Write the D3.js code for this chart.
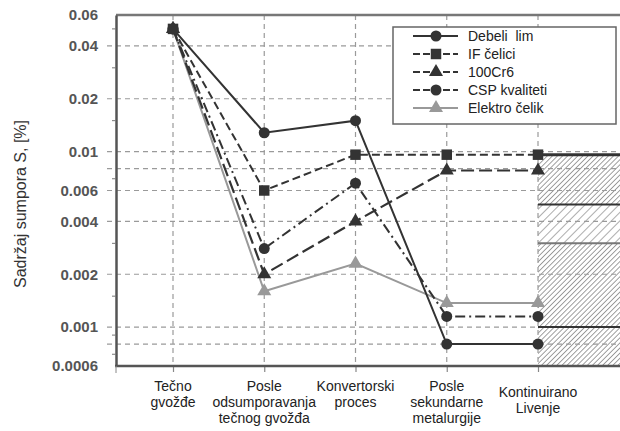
<!DOCTYPE html>
<html>
  <head>
  <title>Sadrzaj sumpora</title>
  </head>
  <body>
    <style>
        body, html {
          margin: 0;
          padding: 0;
          background: #fff;
        }
        svg text {
          font-family: "Liberation Sans", Arial, sans-serif;
        }
      </style>

  <svg id="svg" width="620" height="431"></svg>

  <script src="https://d3js.org/d3.v7.min.js"></script>
  <script>
    // categories on the x axis (multi-line labels)
    const categories = [
        ['Tečno', 'gvožđe'],
        ['Posle', 'odsumporavanja', 'tečnog gvožđa'],
        ['Konvertorski', 'proces'],
        ['Posle', 'sekundarne', 'metalurgije'],
        ['Kontinuirano', 'Livenje']
    ]
    // series values (S content, %)
    const debeliLim = [0.05, 0.0128, 0.015, 0.0008, 0.0008]
    const ifCelici = [0.05, 0.006, 0.0096, 0.0096, 0.0096]
    const cr6 = [0.05, 0.002, 0.004, 0.0078, 0.0078]
    const cspKvaliteti = [0.05, 0.0028, 0.0066, 0.00115, 0.00115]
    const elektroCelik = [0.05, 0.0016, 0.0023, 0.00137, 0.00137]

    const yTicks = [0.06, 0.04, 0.02, 0.01, 0.006, 0.004, 0.002, 0.001, 0.0006]
    const yMinorTicks = [0.05, 0.03, 0.015, 0.007, 0.003, 0.0015, 0.0009, 0.0007]
    const yGrid = [0.04, 0.02, 0.01, 0.008, 0.006, 0.004, 0.002, 0.001, 0.0008]
    // limits drawn inside the hatched area at the casting stage
    const hatchLines = [0.0096, 0.005, 0.003, 0.001]

    const width = 620
    const height = 431
    const plotLeft = 116
    const plotTop = 15
    const plotBottom = 366

    const svg = d3.select('#svg')

    const catIndex = categories.map((d, i) => i)
    const xscale = d3.scalePoint()
        .domain(catIndex)
        .range([173, 538])
    const yscale = d3.scaleLog()
        .domain([0.0006, 0.06])
        .range([plotBottom, plotTop])

    // hatch patterns
    const defs = svg.append('defs')
    function addHatch(id, gap, color) {
        defs.append('pattern')
            .attr('id', id)
            .attr('patternUnits', 'userSpaceOnUse')
            .attr('width', gap)
            .attr('height', gap)
            .attr('patternTransform', 'rotate(45)')
            .append('line')
            .attr('x1', 0).attr('y1', 0)
            .attr('x2', 0).attr('y2', gap)
            .attr('stroke', color)
            .attr('stroke-width', 1.4)
    }
    addHatch('hatchDense', 3.6, '#777')
    addHatch('hatchSparse', 6, '#8a8a8a')

    const xLast = xscale(4)
    // hatched casting zone
    svg.append('rect')
        .attr('x', xLast)
        .attr('y', yscale(hatchLines[0]))
        .attr('width', width - xLast)
        .attr('height', plotBottom - yscale(hatchLines[0]))
        .attr('fill', 'url(#hatchDense)')
    svg.append('rect')
        .attr('x', xLast)
        .attr('y', yscale(hatchLines[1]))
        .attr('width', width - xLast)
        .attr('height', yscale(hatchLines[2]) - yscale(hatchLines[1]))
        .attr('fill', '#fff')
    svg.append('rect')
        .attr('x', xLast)
        .attr('y', yscale(hatchLines[1]))
        .attr('width', width - xLast)
        .attr('height', yscale(hatchLines[2]) - yscale(hatchLines[1]))
        .attr('fill', 'url(#hatchSparse)')

    // grid
    const grid = svg.append('g')
        .attr('stroke', '#9a9a9a')
        .attr('stroke-width', 1.2)
        .attr('stroke-dasharray', '5,4')
    grid.selectAll('.hg')
        .data(yGrid)
        .join('line')
        .attr('x1', 107)
        .attr('x2', width)
        .attr('y1', d => yscale(d))
        .attr('y2', d => yscale(d))
    grid.selectAll('.vg')
        .data(catIndex)
        .join('line')
        .attr('x1', d => xscale(d))
        .attr('x2', d => xscale(d))
        .attr('y1', plotTop)
        .attr('y2', plotBottom)

    // lines inside hatch
    svg.selectAll('.hl')
        .data(hatchLines)
        .join('line')
        .attr('x1', xLast)
        .attr('x2', width)
        .attr('y1', d => yscale(d))
        .attr('y2', d => yscale(d))
        .attr('stroke', (d, i) => i === 2 ? '#777' : '#333')
        .attr('stroke-width', (d, i) => i === 0 ? 3 : 2)

    // frame: top line, left and bottom axes
    svg.append('line')
        .attr('x1', plotLeft).attr('x2', width)
        .attr('y1', plotTop).attr('y2', plotTop)
        .attr('stroke', '#777').attr('stroke-width', 2.5)

    const leftAxis = d3.axisLeft(yscale)
        .tickValues(yTicks)
        .tickFormat(d => String(d))
        .tickSize(0)
        .tickPadding(18)
    const gLeft = svg.append('g')
        .attr('transform', `translate(${plotLeft}, 0)`)
        .call(leftAxis)
    gLeft.select('.domain')
        .attr('stroke', '#555')
        .attr('stroke-width', 2.5)
    gLeft.selectAll('text')
        .attr('font-size', 15)
        .attr('font-weight', 'bold')
        .attr('fill', '#555')
    gLeft.selectAll('.minor')
        .data(yMinorTicks)
        .join('line')
        .attr('class', 'minor')
        .attr('x1', -4).attr('x2', 0)
        .attr('y1', d => yscale(d))
        .attr('y2', d => yscale(d))
        .attr('stroke', '#777')

    const bottomAxis = d3.axisBottom(xscale)
        .tickSize(6)
        .tickFormat('')
    const gBottom = svg.append('g')
        .attr('transform', `translate(0, ${plotBottom})`)
        .call(bottomAxis)
    gBottom.select('.domain').remove()
    gBottom.selectAll('line').attr('stroke', '#888').attr('stroke-width', 1.2)
    svg.append('line')
        .attr('x1', plotLeft - 1).attr('x2', width)
        .attr('y1', plotBottom).attr('y2', plotBottom)
        .attr('stroke', '#555').attr('stroke-width', 2.5)
    svg.append('line')
        .attr('x1', plotLeft).attr('x2', plotLeft)
        .attr('y1', plotBottom).attr('y2', plotBottom + 7)
        .attr('stroke', '#888')

    // category labels
    const labelOffset = [0, 0, 0, 0, 6]
    const catLabels = svg.append('g')
    categories.forEach((lines, i) => {
        const t = catLabels.append('text')
            .attr('text-anchor', 'middle')
            .attr('font-size', 14)
            .attr('fill', '#222')
        lines.forEach((s, j) => {
            t.append('tspan')
                .attr('x', xscale(i))
                .attr('y', 391 + labelOffset[i] + j * 16)
                .text(s)
        })
    })

    // y axis title
    svg.append('text')
        .attr('transform', 'translate(26, 204) rotate(-90)')
        .attr('text-anchor', 'middle')
        .attr('font-size', 16)
        .attr('fill', '#333')
        .text('Sadržaj sumpora S, [%]')

    // series
    const series = [
        { name: 'Debeli  lim', values: debeliLim, color: '#333', dash: null, marker: 'circle', w: 2 },
        { name: 'IF čelici', values: ifCelici, color: '#333', dash: '8,4', marker: 'square', w: 2 },
        { name: '100Cr6', values: cr6, color: '#333', dash: '13,5', marker: 'triangle', w: 2.2 },
        { name: 'CSP kvaliteti', values: cspKvaliteti, color: '#333', dash: '10,4,2,4', marker: 'circle', w: 2 },
        { name: 'Elektro čelik', values: elektroCelik, color: '#999', dash: null, marker: 'triangle', w: 2 }
    ]
    const symbols = {
        circle: d3.symbol().type(d3.symbolCircle).size(95),
        square: d3.symbol().type(d3.symbolSquare).size(110),
        triangle: d3.symbol().type(d3.symbolTriangle).size(85)
    }

    const linegen = d3.line()
        .x((d, i) => xscale(i))
        .y(d => yscale(d))

    const drawOrder = [4, 3, 2, 0, 1]
    drawOrder.forEach(k => {
        const s = series[k]
        svg.append('path')
            .attr('d', linegen(s.values))
            .attr('fill', 'none')
            .attr('stroke', s.color)
            .attr('stroke-width', s.w)
            .attr('stroke-dasharray', s.dash)
    })
    drawOrder.forEach(k => {
        const s = series[k]
        svg.append('g')
            .selectAll('path')
            .data(s.values)
            .join('path')
            .attr('transform', (d, i) => `translate(${xscale(i)}, ${yscale(d)})`)
            .attr('d', symbols[s.marker]())
            .attr('fill', s.color)
    })

    // legend
    const legend = svg.append('g')
    legend.append('rect')
        .attr('x', 393).attr('y', 27)
        .attr('width', 223).attr('height', 97)
        .attr('fill', '#fff')
        .attr('stroke', '#666')
        .attr('stroke-width', 1.5)
    series.forEach((s, i) => {
        const y = 36 + i * 18
        legend.append('line')
            .attr('x1', 413).attr('x2', 458)
            .attr('y1', y).attr('y2', y)
            .attr('stroke', s.color)
            .attr('stroke-width', s.w)
            .attr('stroke-dasharray', s.dash ? '7,3' : null)
        legend.append('path')
            .attr('transform', `translate(436, ${y})`)
            .attr('d', symbols[s.marker]())
            .attr('fill', s.color)
        legend.append('text')
            .attr('x', 468).attr('y', y + 5)
            .attr('font-size', 14)
            .attr('fill', '#222')
            .style('white-space', 'pre')
            .text(s.name)
    })
  </script>
  </body>
</html>
